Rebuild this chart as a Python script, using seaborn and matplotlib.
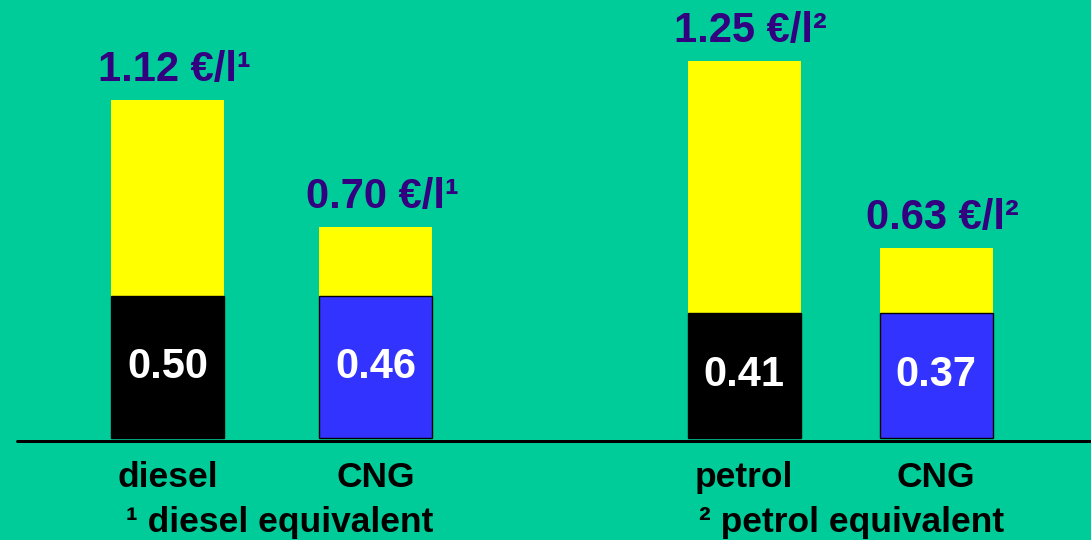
import matplotlib
matplotlib.use("Agg")
import matplotlib.pyplot as plt
from matplotlib.lines import Line2D
import pandas as pd
import seaborn as sns

# ---- data ----
categories_left = ["diesel", "CNG"]
totals_left = [1.12, 0.70]
base_left = [0.47, 0.47]
base_labels_left = ["0.50", "0.46"]
total_labels_left = ["1.12 €/l¹", "0.70 €/l¹"]
footnote_left = "¹ diesel equivalent"

categories_right = ["petrol", "CNG"]
totals_right = [1.25, 0.63]
base_right = [0.415, 0.415]
base_labels_right = ["0.41", "0.37"]
total_labels_right = ["1.25 €/l²", "0.63 €/l²"]
footnote_right = "² petrol equivalent"

BG = "#00CC99"
YELLOW = "#FFFF00"
BASE_COLORS = {"diesel": "#000000", "petrol": "#000000", "CNG": "#3333FF"}
PURPLE = "#330080"

sns.set_theme(style="white")
plt.rcParams["font.family"] = ["Liberation Sans", "DejaVu Sans"]

W, H = 1091, 540
PX_PER_UNIT = 301.6
fig = plt.figure(figsize=(W / 100, H / 100), dpi=100, facecolor=BG)


def make_axes(x0, x1):
    ax = fig.add_axes([x0 / W, (H - 447) / H, (x1 - x0) / W, 447 / H])
    ax.set_facecolor(BG)
    return ax


def draw_group(ax, cats, totals, bases, base_labels, total_labels, width, xlim):
    df = pd.DataFrame({"cat": cats, "total": totals, "base": bases})
    sns.barplot(data=df, x="cat", y="total", order=cats, color=YELLOW,
                saturation=1, width=width, errorbar=None, linewidth=0, ax=ax)
    sns.barplot(data=df, x="cat", y="base", order=cats, hue="cat",
                palette=BASE_COLORS, saturation=1, legend=False, width=width,
                errorbar=None, edgecolor="black", linewidth=1.0, ax=ax)
    for i, (b, t, bl, tl) in enumerate(zip(bases, totals, base_labels, total_labels)):
        ax.text(i, b / 2, bl, ha="center", va="center", color="white",
                fontsize=30, fontweight="bold")
        ax.annotate(tl, (i, t), xytext=(6, 19), textcoords="offset pixels",
                    ha="center", va="baseline", color=PURPLE,
                    fontsize=30, fontweight="bold")
    ax.set_xlim(*xlim)
    ax.set_ylim(-9 / PX_PER_UNIT, 438 / PX_PER_UNIT)
    ax.set_xlabel("")
    ax.set_ylabel("")
    ax.set_yticks([])
    for s in ax.spines.values():
        s.set_visible(False)
    ax.tick_params(axis="x", length=0, pad=10, labelsize=25.5, colors="black")
    for lbl in ax.get_xticklabels():
        lbl.set_fontweight("bold")


ax_l = make_axes(17, 560)
draw_group(ax_l, categories_left, totals_left, base_left, base_labels_left,
           total_labels_left, 113 / 208,
           (-(168 - 17) / 208, (560 - 168) / 208))

ax_r = make_axes(560, 1091)
draw_group(ax_r, categories_right, totals_right, base_right, base_labels_right,
           total_labels_right, 113 / 192,
           (-(744 - 560) / 192, (1091 - 744) / 192))

# baseline rule
fig.add_artist(Line2D([17 / W, 1.0], [(H - 441) / H] * 2, transform=fig.transFigure,
                      color="black", linewidth=3 * 72 / 100))

# footnotes
fig.text(280 / W, 8 / H, footnote_left, ha="center", va="baseline",
         fontsize=25.5, fontweight="bold", color="black")
fig.text(852 / W, 8 / H, footnote_right, ha="center", va="baseline",
         fontsize=25.5, fontweight="bold", color="black")

fig.savefig("out.png", dpi=100, facecolor=BG)
